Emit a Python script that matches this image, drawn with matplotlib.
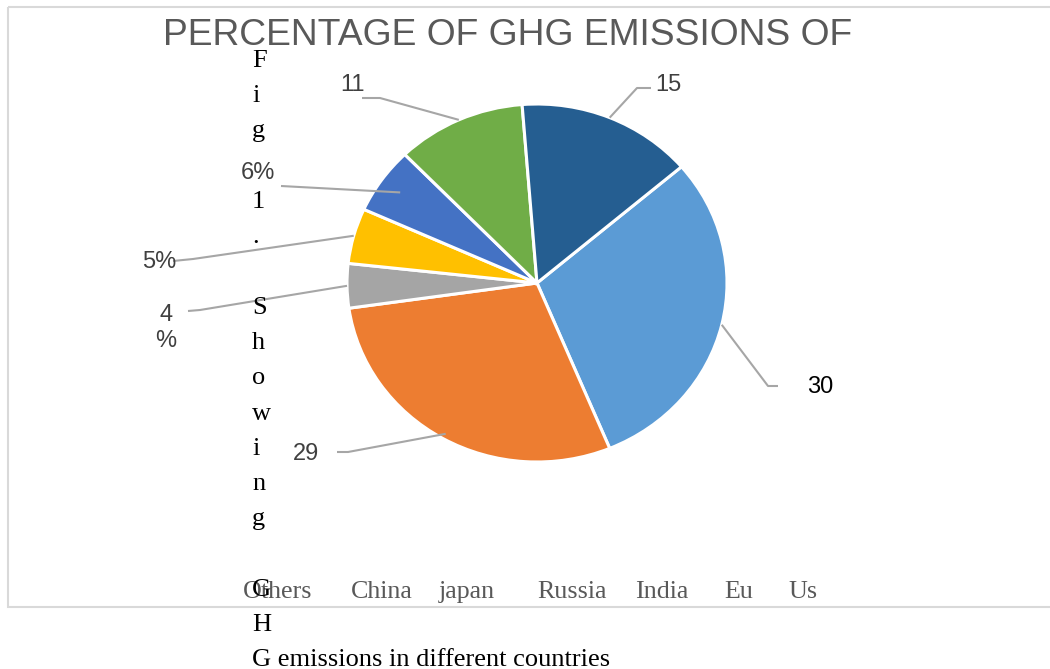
import matplotlib
matplotlib.use('Agg')
import matplotlib.pyplot as plt
import numpy as np
from matplotlib.patches import Rectangle

# ---------------- data ----------------
categories = ['Others', 'China', 'japan', 'Russia', 'India', 'Eu', 'Us']
values = [30, 29, 4, 5, 6, 11, 15]
label_texts = ['30', '29', '4\n%', '5%', '6%', '11', '15']
title = 'PERCENTAGE OF GHG EMISSIONS OF'
caption_lines = ['F', 'i', 'g', '', '1', '.', '', 'S', 'h', 'o', 'w', 'i', 'n', 'g',
                 '', 'G', 'H', 'G emissions in different countries']

# ---------------- style / layout ----------------
colors = ['#5B9BD5', '#ED7D31', '#A5A5A5', '#FFC000', '#4472C4', '#70AD47', '#255E91']
label_colors = ['#000000', '#404040', '#404040', '#404040', '#404040', '#404040', '#404040']
label_pos = [(820, 387), (306, 454), (166, 328), (159, 262), (258, 173), (352, 85), (668, 85)]
elbows = [[(768, 386), (778, 386)], [(348, 452), (337, 452)], [(200, 310), (188, 311)],
          [(193, 259), (173, 261)], [(281, 186)], [(380, 98), (362, 98)], [(637, 88), (651, 88)]]
anchor_r = [1.0, 0.97, 1.0, 1.0, 0.88, 1.0, 1.0]
legend_x = [243, 351, 439, 537, 635, 724, 788]

W, H = 1050, 669
fig = plt.figure(figsize=(W / 100, H / 100), dpi=100)
fig.patch.set_facecolor('white')

cx, cy, rx, ry = 537, 283, 190, 179
lim = 1.25
ax = fig.add_axes([(cx - lim * rx) / W, (H - cy - lim * ry) / H, 2 * lim * rx / W, 2 * lim * ry / H])
wedges, _ = ax.pie(values, colors=colors, startangle=40.5, counterclock=False,
                   wedgeprops=dict(edgecolor='white', linewidth=2.2))
ax.set_aspect('auto')
ax.set_xlim(-lim, lim)
ax.set_ylim(-lim, lim)
ax.axis('off')

ov = fig.add_axes([0, 0, 1, 1], zorder=3)
ov.set_xlim(0, W)
ov.set_ylim(H, 0)
ov.axis('off')
ov.patch.set_alpha(0)

# chart border
ov.add_patch(Rectangle((8, 7), 1100, 600, fill=False, edgecolor='#D9D9D9', linewidth=1.5, clip_on=False))

# leader lines + labels
for w, txt, col, pos, elb, r in zip(wedges, label_texts, label_colors, label_pos, elbows, anchor_r):
    mid = np.deg2rad((w.theta1 + w.theta2) / 2)
    dx, dy = ax.transData.transform((r * np.cos(mid), r * np.sin(mid)))
    anchor = (dx, H - dy)
    pts = [anchor] + elb
    ov.plot([p[0] for p in pts], [p[1] for p in pts], color='#A6A6A6', lw=1.5, solid_capstyle='butt')
    ov.text(pos[0], pos[1], txt, ha='center', va='center', multialignment='center',
            fontsize=17, color=col, family='Liberation Sans', linespacing=1.25)

# title
ov.text(508, 45, title, ha='center', va='baseline', fontsize=26.8, color='#595959', family='Liberation Sans')

# legend (text only)
for x, cat in zip(legend_x, categories):
    ov.text(x, 598, cat, ha='left', va='baseline', fontsize=18.7, color='#595959', family='Liberation Serif')

# vertical caption
for k, line in enumerate(caption_lines):
    if line:
        ov.text(252, 67 + 35.25 * k, line, ha='left', va='baseline', fontsize=19,
                color='black', family='Liberation Serif')

fig.savefig('out.png', dpi=100)
